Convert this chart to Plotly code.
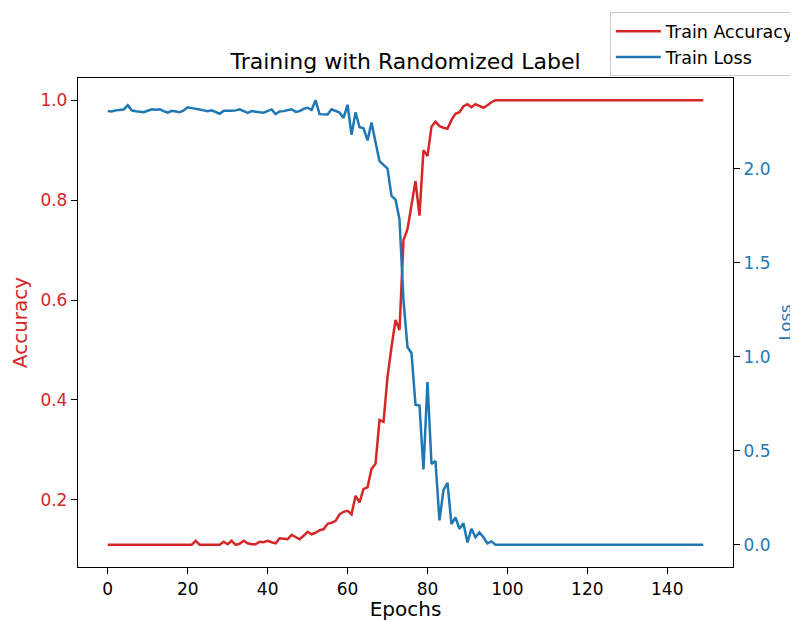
import plotly.graph_objects as go

epochs = list(range(150))

train_accuracy = (
    [0.11] * 22
    + [0.118]
    + [0.11] * 6
    + [0.116, 0.111, 0.118, 0.110, 0.112, 0.118, 0.113, 0.111, 0.111, 0.116,
       0.115, 0.118, 0.115, 0.113, 0.123, 0.122, 0.121, 0.130, 0.126, 0.121,
       0.128, 0.136, 0.131, 0.134, 0.139, 0.141, 0.152, 0.154, 0.158, 0.171,
       0.176, 0.178, 0.171, 0.208, 0.195, 0.222, 0.225, 0.262, 0.272, 0.360,
       0.356, 0.446, 0.506, 0.560, 0.540, 0.720, 0.742, 0.790, 0.838, 0.769,
       0.900, 0.888, 0.947, 0.957, 0.948, 0.945, 0.943, 0.960, 0.973, 0.976,
       0.988, 0.992, 0.986, 0.992, 0.988, 0.985, 0.990, 0.996]
    + [1.0] * 53
)

train_loss = (
    [2.306, 2.304, 2.310, 2.312, 2.315, 2.338, 2.310, 2.305, 2.303, 2.300,
     2.308, 2.316, 2.314, 2.316, 2.306, 2.298, 2.308, 2.305, 2.300, 2.310,
     2.326, 2.322, 2.320, 2.315, 2.310, 2.305, 2.310, 2.300, 2.292, 2.308,
     2.306, 2.308, 2.310, 2.316, 2.306, 2.297, 2.306, 2.305, 2.300, 2.298,
     2.306, 2.315, 2.290, 2.304, 2.306, 2.310, 2.316, 2.302, 2.306, 2.318,
     2.324, 2.312, 2.364, 2.290, 2.290, 2.288, 2.316, 2.306, 2.298, 2.270,
     2.340, 2.180, 2.300, 2.220, 2.215, 2.150, 2.245, 2.140, 2.040, 2.020,
     2.000, 1.855, 1.835, 1.730, 1.300, 1.050, 1.020, 0.745, 0.740, 0.400,
     0.865, 0.430, 0.445, 0.130, 0.290, 0.330, 0.110, 0.145, 0.085, 0.115,
     0.012, 0.085, 0.040, 0.066, 0.040, 0.007, 0.018]
    + [0.0] * 53
)

x_ticks = [0, 20, 40, 60, 80, 100, 120, 140]
acc_ticks = [0.2, 0.4, 0.6, 0.8, 1.0]
loss_ticks = [0.0, 0.5, 1.0, 1.5, 2.0]

RED = "#d62728"
BLUE = "#1f77b4"
FONT = "DejaVu Sans"


def padded(values, frac=0.05):
    lo, hi = min(values), max(values)
    span = hi - lo
    return [lo - frac * span, hi + frac * span]


fig = go.Figure()
fig.add_trace(go.Scatter(x=epochs, y=train_accuracy, mode="lines", name="Train Accuracy",
                         line=dict(color=RED, width=2.5), yaxis="y"))
fig.add_trace(go.Scatter(x=epochs, y=train_loss, mode="lines", name="Train Loss",
                         line=dict(color=BLUE, width=2.5), yaxis="y2"))

axis_common = dict(showgrid=False, zeroline=False, showline=True, linecolor="black",
                   linewidth=1.3, ticks="outside", ticklen=6, tickwidth=1.3,
                   tickcolor="black", automargin=False)

# the page adds an 8px body margin, so the figure is sized 790x613 to fill the window
fig.update_layout(
    width=790, height=613,
    margin=dict(l=70, r=65, t=70, b=54, autoexpand=False),
    paper_bgcolor="white", plot_bgcolor="white",
    font=dict(family=FONT, size=17, color="black"),
    title=dict(text="Training with Randomized Label", x=0.5, xref="paper", xanchor="center",
               y=0.913, yref="container", yanchor="middle", font=dict(size=22, color="black")),
    xaxis=dict(range=padded(epochs), tickvals=x_ticks, title=dict(text="Epochs", standoff=6),
               mirror=True, **axis_common),
    yaxis=dict(range=padded(train_accuracy), tickvals=acc_ticks, tickformat=".1f",
               tickfont=dict(color=RED), title=dict(text="Accuracy", font=dict(color=RED), standoff=8),
               mirror=True, **axis_common),
    yaxis2=dict(range=padded(train_loss), tickvals=loss_ticks, tickformat=".1f",
                tickfont=dict(color=BLUE), title=dict(text="Loss", font=dict(color=BLUE, size=16.5), standoff=9),
                overlaying="y", side="right", **axis_common),
    legend=dict(x=0.812, xanchor="left", y=1.134, yanchor="top", xref="paper", yref="paper",
                bgcolor="rgba(255,255,255,0.8)", bordercolor="#cccccc", borderwidth=1,
                font=dict(size=17.5), itemwidth=45),
    showlegend=True,
)

fig.write_html("out.html")
